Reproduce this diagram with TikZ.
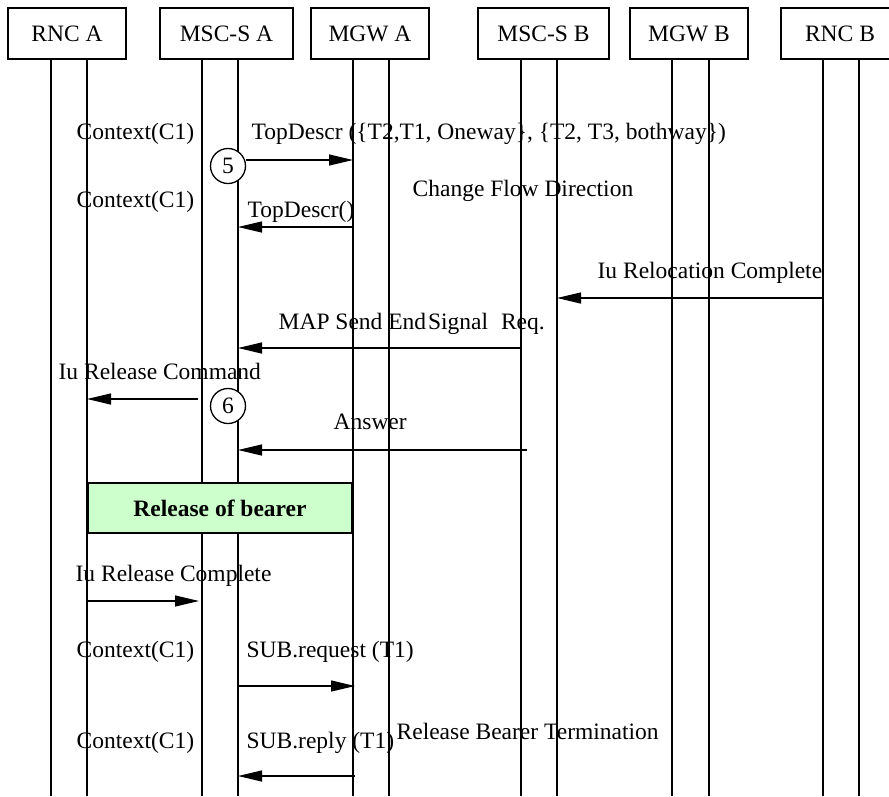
\documentclass[tikz,border=0pt]{standalone}
\usepackage{fontspec}
\setmainfont{Liberation Serif}
\usetikzlibrary{arrows.meta}
\begin{document}
\begin{tikzpicture}[x=1pt,y=-1pt,
  font=\fontsize{23.5}{28}\selectfont,
  line width=1.3pt,
  hdr/.style={draw, minimum height=51pt, inner sep=0pt},
  lbl/.style={anchor=base west, inner sep=0pt},
  msg/.style={-{Triangle[length=24pt,width=11pt]}},
  num/.style={draw, circle, fill=white, minimum size=35pt, inner sep=0pt},
  phase/.style={draw, fill=green!20, line width=1.5pt, minimum width=264pt, minimum height=50pt, inner sep=0pt, font=\fontsize{23.5}{28}\selectfont\bfseries}]
\useasboundingbox (0,0) rectangle (889,796);

% header boxes
\node[hdr, minimum width=118pt] (rncA) at (67,33.5) {RNC A};
\node[hdr, minimum width=133pt] (mscA) at (226.5,33.5) {MSC-S A};
\node[hdr, minimum width=118pt] (mgwA) at (370,33.5) {MGW A};
\node[hdr, minimum width=131pt] (mscB) at (543.5,33.5) {MSC-S B};
\node[hdr, minimum width=118pt] (mgwB) at (689,33.5) {MGW B};
\node[hdr, minimum width=118pt] (rncB) at (840,33.5) {RNC B};

% lifeline tops and bottoms
\foreach \n/\x in {la1/51,la2/87,ma1/202,ma2/238,ga1/353,ga2/389,mb1/521,mb2/557,gb1/672,gb2/709,rb1/823,rb2/859}{
  \coordinate (\n) at (\x,59);
  \coordinate (\n-end) at (\x,796);
}
\foreach \n in {la1,la2,ma1,ma2,ga1,ga2,mb1,mb2,gb1,gb2,rb1,rb2}{
  \draw (\n) -- (\n-end);
}

% row coordinates
\coordinate (r1) at (0,160);
\coordinate (r2) at (0,227);
\coordinate (r3) at (0,298);
\coordinate (r4) at (0,348);
\coordinate (r5) at (0,399);
\coordinate (r6) at (0,450);
\coordinate (r7) at (0,601);
\coordinate (r8) at (0,686);
\coordinate (r9) at (0,776);

% numbered circles
\node[num] (c5) at (228,166) {5};
\node[num] (c6) at (228,406) {6};

% phase box
\node[phase] (rel) at (220,508) {Release of bearer};

% messages
\draw[msg] (c5.east |- r1) -- (ga1 |- r1);
\draw[msg] (ga1 |- r2) -- (ma2 |- r2);
\draw[msg] (rb1 |- r3) -- (mb2 |- r3);
\draw[msg] (mb1 |- r4) -- (ma2 |- r4);
\draw[msg] ([xshift=-4pt]ma1 |- r5) -- (la2 |- r5);
\draw[msg] ([xshift=6pt]mb1 |- r6) -- (ma2 |- r6);
\draw[msg] (la2 |- r7) -- ([xshift=-3pt]ma1 |- r7);
\draw[msg] (ma2 |- r8) -- ([xshift=2pt]ga1 |- r8);
\draw[msg] ([xshift=2pt]ga1 |- r9) -- (ma2 |- r9);

% labels
\node[lbl] (t1) at (76,139) {Context(C1)};
\node[lbl] (t2) at (251,139) {TopDescr (\{T2,T1, Oneway\}, \{T2, T3, bothway\})};
\node[lbl] (t3) at (76,207) {Context(C1)};
\node[lbl] (t4) at (412,196) {Change Flow Direction};
\node[lbl] (t5) at (247,217) {TopDescr()};
\node[lbl] (t6) at (597,278) {Iu Relocation Complete};
\node[lbl] (t7) at (278,329) {MAP Send End\hspace{0.08em}Signal\hspace{0.55em}Req.};
\node[lbl] (t8) at (58,379) {Iu Release Command};
\node[lbl] (t9) at (333,429) {Answer};
\node[lbl] (t10) at (75,581) {Iu Release Complete};
\node[lbl] (t11) at (76,657) {Context(C1)};
\node[lbl] (t12) at (246,657) {SUB.request (T1)};
\node[lbl] (t13) at (76,748) {Context(C1)};
\node[lbl] (t14) at (246,748) {SUB.reply (T1)};
\node[lbl] (t15) at (396,739) {Release Bearer Termination};
\end{tikzpicture}
\end{document}
